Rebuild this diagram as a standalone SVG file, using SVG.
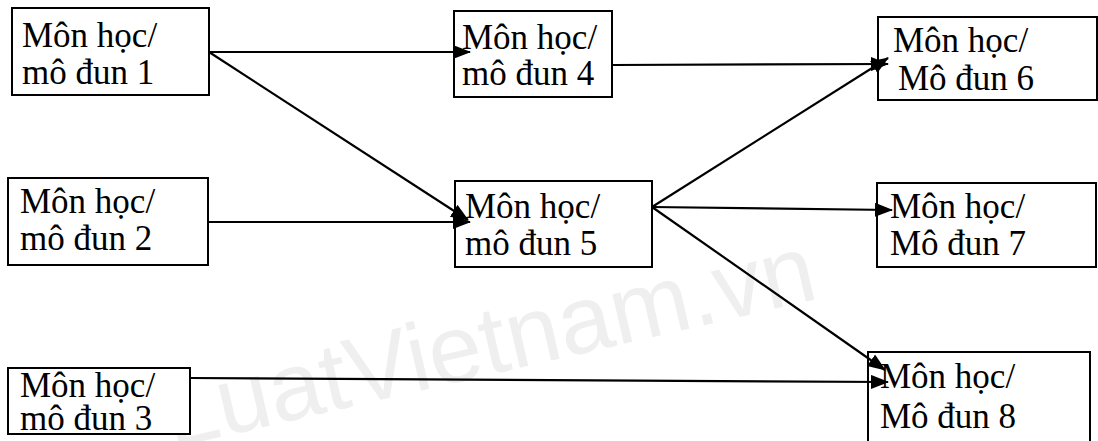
<svg xmlns="http://www.w3.org/2000/svg" width="1098" height="441" viewBox="0 0 1098 441">
  <style>
    .box { fill: #ffffff; stroke: #000000; stroke-width: 2; }
    .lbl { font-size: 35px; fill: #000000; }
    .edge { fill: none; stroke: #000000; stroke-width: 2.2; }
    .wm { font-size: 96px; fill: #efefef; }
  </style>
  <defs>
    <marker id="arrow" markerWidth="18" markerHeight="14" refX="17" refY="7" orient="auto" markerUnits="userSpaceOnUse">
      <path d="M0,0 L18,7 L0,14 Z" fill="#000000"/>
    </marker>
  </defs>
  <rect width="1098" height="441" fill="#ffffff"/>

  <!-- faint background mark, drawn first so everything sits above it -->
  <text class="wm" font-family="'Liberation Sans', Arial, sans-serif" x="172" y="448" transform="rotate(-13 172 448)">LuatVietnam.vn</text>

  <g font-family="'Liberation Serif', 'Times New Roman', serif">
    <g id="node1">
      <rect class="box" x="12" y="8" width="197" height="87"/>
      <text class="lbl" x="22" y="47">Môn học/</text>
      <text class="lbl" x="22" y="84">mô đun 1</text>
    </g>
    <g id="node2">
      <rect class="box" x="8" y="178" width="200" height="87"/>
      <text class="lbl" x="20" y="213">Môn học/</text>
      <text class="lbl" x="20" y="250">mô đun 2</text>
    </g>
    <g id="node3">
      <rect class="box" x="8" y="368" width="182" height="66"/>
      <text class="lbl" x="20" y="397">Môn học/</text>
      <text class="lbl" x="20" y="430">mô đun 3</text>
    </g>
    <g id="node4">
      <rect class="box" x="454" y="11" width="158" height="86"/>
      <text class="lbl" x="462" y="49">Môn học/</text>
      <text class="lbl" x="462" y="85">mô đun 4</text>
    </g>
    <g id="node5">
      <rect class="box" x="455" y="181" width="197" height="86"/>
      <text class="lbl" x="465" y="218">Môn học/</text>
      <text class="lbl" x="465" y="255">mô đun 5</text>
    </g>
    <g id="node6">
      <rect class="box" x="878" y="17" width="219" height="83"/>
      <text class="lbl" x="893" y="52">Môn học/</text>
      <text class="lbl" x="898" y="90">Mô đun 6</text>
    </g>
    <g id="node7">
      <rect class="box" x="877" y="183" width="219" height="84"/>
      <text class="lbl" x="890" y="218">Môn học/</text>
      <text class="lbl" x="890" y="255">Mô đun 7</text>
    </g>
    <g id="node8">
      <rect class="box" x="868" y="352" width="222" height="100"/>
      <text class="lbl" x="880" y="388">Môn học/</text>
      <text class="lbl" x="880" y="428">Mô đun 8</text>
    </g>
  </g>

  <g id="connectors">
    <line class="edge" x1="209" y1="52" x2="470" y2="52" marker-end="url(#arrow)"/>
    <line class="edge" x1="209" y1="52" x2="468" y2="220" marker-end="url(#arrow)"/>
    <line class="edge" x1="208" y1="222" x2="470" y2="222" marker-end="url(#arrow)"/>
    <line class="edge" x1="612" y1="65" x2="888" y2="64" marker-end="url(#arrow)"/>
    <line class="edge" x1="652" y1="207" x2="888" y2="58" marker-end="url(#arrow)"/>
    <line class="edge" x1="652" y1="207" x2="892" y2="210" marker-end="url(#arrow)"/>
    <line class="edge" x1="652" y1="207" x2="885" y2="370" marker-end="url(#arrow)"/>
    <line class="edge" x1="190" y1="378" x2="888" y2="382" marker-end="url(#arrow)"/>
  </g>
</svg>
